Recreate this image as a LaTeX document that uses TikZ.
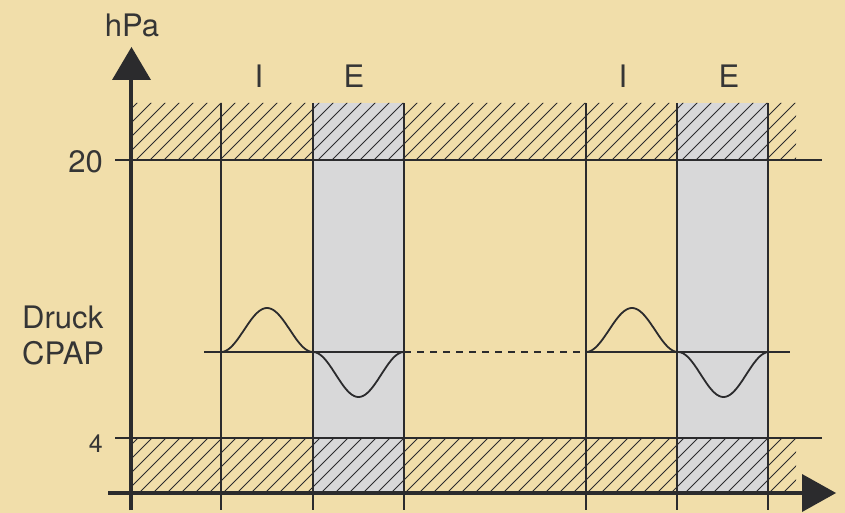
\documentclass[tikz,border=0pt]{standalone}
\usepackage{fontspec}
\setmainfont{TeX Gyre Heros}
\definecolor{bg}{HTML}{F1DEAA}
\definecolor{gr}{HTML}{D8D8D9}
\definecolor{ink}{HTML}{2B2B2D}
\definecolor{txt}{HTML}{353535}
\tikzset{
  thinline/.style={draw=ink, line width=1.6pt},
  axisline/.style={draw=ink, line width=3.2pt},
  hatchline/.style={draw=ink, line width=0.9pt},
  curve/.style={draw=ink, line width=1.8pt},
  lbl/.style={text=txt, font=\fontsize{31}{34}\selectfont, inner sep=0pt},
  small/.style={text=txt, font=\fontsize{25}{28}\selectfont, inner sep=0pt},
  phase/.style={text=txt, font=\fontsize{31}{34}\selectfont, inner sep=0pt},
}
\begin{document}
\begin{tikzpicture}[x=1pt,y=-1pt]
\fill[bg] (0,0) rectangle (845,513);
\useasboundingbox (0,0) rectangle (845,513);
% grey expiration columns
\fill[gr] (313,103) rectangle (404,493);
\fill[gr] (677,103) rectangle (768,493);
% hatched bands
\begin{scope}
\clip (131,103) rectangle (796,160) (131,438) rectangle (796,493);
\foreach \a in {-400,-386,...,800}
  \draw[hatchline] (\a,500) -- (\a+410,90);
\end{scope}
% coordinates
\coordinate (yb) at (131,510);
\coordinate (yt) at (131,78);
\coordinate (xl) at (108,493);
\coordinate (xr) at (803,493);
% thin vertical lines
\foreach \x in {221,313,404,586,677,768}
  \draw[thinline] (\x,103) -- (\x,510);
% horizontal limit lines
\coordinate (h20l) at (115,160);
\coordinate (h20r) at (822,160);
\coordinate (h4l) at (115,438);
\coordinate (h4r) at (822,438);
\draw[thinline] (h20l) -- (h20r);
\draw[thinline] (h4l) -- (h4r);
% axes
\draw[axisline] (yb) -- (yt);
\draw[axisline] (xl) -- (xr);
\fill[ink] (112,80) -- (151,80) -- (131.5,47) -- cycle;
\fill[ink] (802,474) -- (802,512) -- (836,493) -- cycle;
% CPAP baseline
\coordinate (c1) at (204,352);
\coordinate (c2) at (404,352);
\coordinate (c3) at (586,352);
\coordinate (c4) at (790,352);
\draw[curve] (c1) -- (c2);
\draw[curve, dash pattern=on 7pt off 6pt] (c2) -- (c3);
\draw[curve] (c3) -- (c4);
% breathing curves
\foreach \s in {221,586}{
  \draw[curve] plot[domain=0:1, samples=50, smooth] ({\s+92*\x},{352-44*(1-cos(360*\x))/2});
  \draw[curve] plot[domain=0:1, samples=50, smooth] ({\s+92+91*\x},{352+45*(1-cos(360*\x))/2});
}
% labels
\node[lbl] (hpa) at (132,25.5) {hPa};
\node[lbl, anchor=east] (l20) at (103,162) {20};
\node[small, anchor=east] (l4) at (103,444) {4};
\node[lbl, anchor=west] (druck) at (22,317) {Druck};
\node[lbl, anchor=west] (cpap) at (22,353) {CPAP};
\node[phase] (i1) at (259,76) {I};
\node[phase] (e1) at (354,76) {E};
\node[phase] (i2) at (623,76) {I};
\node[phase] (e2) at (729,76) {E};
\end{tikzpicture}
\end{document}
